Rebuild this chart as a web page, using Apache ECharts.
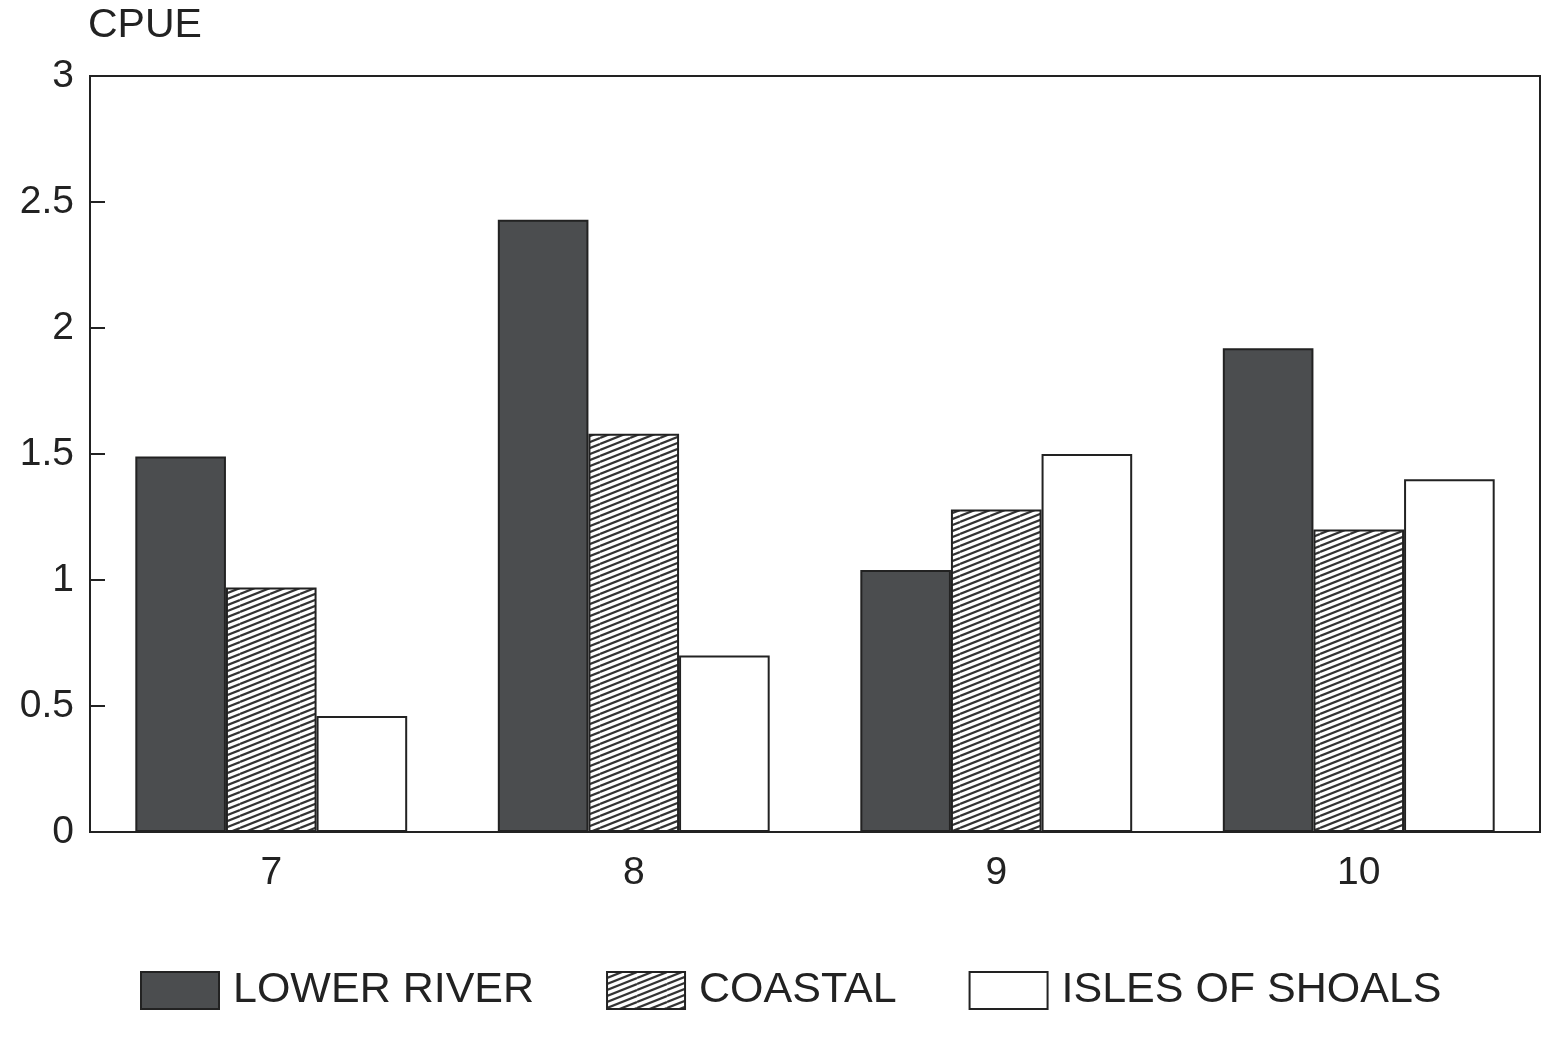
<!DOCTYPE html>
<html>
<head>
<meta charset="utf-8">
<script src="https://cdn.jsdelivr.net/npm/echarts@6/dist/echarts.min.js"></script>
<style>
  html, body { margin: 0; padding: 0; background: #fff; }
  #chart { width: 1545px; height: 1038px; }
</style>
</head>
<body>
<div id="chart"></div>
<script>
// 月份
var months = ["7", "8", "9", "10"];
var seriesNames = ["LOWER RIVER", "COASTAL", "ISLES OF SHOALS"];
// CPUE 数据
var lowerRiver = [1.49, 2.43, 1.04, 1.92];
var coastal = [0.97, 1.58, 1.28, 1.2];
var islesOfShoals = [0.46, 0.7, 1.5, 1.4];
var yTicks = [0, 0.5, 1, 1.5, 2, 2.5, 3];

// 斜线填充
function makeHatch() {
  var c = document.createElement("canvas");
  c.width = 30;
  c.height = 12;
  var ctx = c.getContext("2d");
  ctx.fillStyle = "#fff";
  ctx.fillRect(0, 0, 30, 12);
  ctx.strokeStyle = "#333";
  ctx.lineWidth = 2.2;
  for (var k = -4; k <= 4; k++) {
    ctx.beginPath();
    ctx.moveTo(0, 12 + 6 * k);
    ctx.lineTo(30, 6 * k);
    ctx.stroke();
  }
  return c;
}

var chart = echarts.init(document.getElementById("chart"));
var font = "Liberation Sans, Arial, sans-serif";
var ink = "#222";

var barStyle = { borderColor: ink, borderWidth: 2 };

var option = {
  backgroundColor: "#fff",
  animation: false,
  textStyle: { fontFamily: font, color: ink },
  grid: {
    left: 90,
    right: 5,
    top: 76,
    bottom: 206,
    show: true,
    borderColor: ink,
    borderWidth: 2,
    backgroundColor: "transparent"
  },
  legend: {
    left: 135,
    top: 964,
    itemWidth: 78,
    itemHeight: 37,
    itemGap: 72,
    icon: "rect",
    textStyle: { fontSize: 43, color: ink, fontFamily: font, padding: [0, 0, 0, 9] },
    data: seriesNames
  },
  xAxis: {
    type: "category",
    data: months,
    axisLine: { lineStyle: { color: ink, width: 2 } },
    axisTick: { inside: true, alignWithLabel: true, length: 15, lineStyle: { color: ink, width: 2 } },
    axisLabel: { fontSize: 39, color: ink, margin: 22, fontFamily: font }
  },
  yAxis: {
    type: "value",
    min: yTicks[0],
    max: yTicks[yTicks.length - 1],
    interval: 0.5,
    name: "CPUE",
    nameLocation: "end",
    nameGap: 30,
    nameTextStyle: { fontSize: 41, color: ink, align: "left", padding: [0, 0, 0, -2], fontFamily: font },
    axisLine: { show: true, lineStyle: { color: ink, width: 2 } },
    axisTick: { show: true, inside: true, length: 15, lineStyle: { color: ink, width: 2 } },
    splitLine: { show: false },
    axisLabel: {
      fontSize: 39,
      color: ink,
      margin: 16,
      fontFamily: font,
      formatter: function (v) { return String(v); }
    }
  },
  series: [
    {
      name: seriesNames[0],
      type: "bar",
      data: lowerRiver,
      barGap: "0%",
      barCategoryGap: "25%",
      itemStyle: Object.assign({ color: "#4b4d4f" }, barStyle)
    },
    {
      name: seriesNames[1],
      type: "bar",
      data: coastal,
      barGap: "0%",
      barCategoryGap: "25%",
      itemStyle: Object.assign({ color: { image: makeHatch(), repeat: "repeat" } }, barStyle)
    },
    {
      name: seriesNames[2],
      type: "bar",
      data: islesOfShoals,
      barGap: "0%",
      barCategoryGap: "25%",
      itemStyle: Object.assign({ color: "#fff" }, barStyle)
    }
  ]
};
chart.setOption(option);
</script>
</body>
</html>
